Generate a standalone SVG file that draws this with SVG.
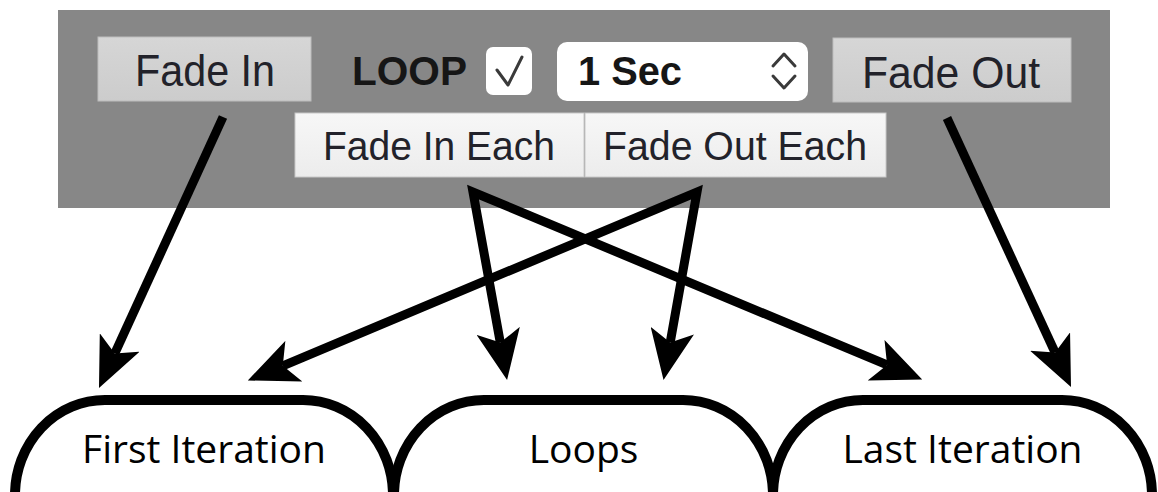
<svg xmlns="http://www.w3.org/2000/svg" width="1158" height="492" viewBox="0 0 1158 492">
  <defs>
    <linearGradient id="gBtn" x1="0" y1="0" x2="0" y2="1">
      <stop offset="0" stop-color="#d6d6d6"/>
      <stop offset="1" stop-color="#cccccc"/>
    </linearGradient>
    <linearGradient id="gSeg" x1="0" y1="0" x2="0" y2="1">
      <stop offset="0" stop-color="#f7f7f7"/>
      <stop offset="1" stop-color="#ececec"/>
    </linearGradient>
    <marker id="arrow" viewBox="0 -22 50 44" refX="12" refY="0" markerWidth="50" markerHeight="44" markerUnits="userSpaceOnUse" orient="auto-start-reverse">
      <path d="M0,-22 L50,0 L0,22 L12,0 Z" fill="#000"/>
    </marker>
    <style>
      .btn { fill: url(#gBtn); stroke: #bdbdbd; stroke-width: 1; }
      .seg { fill: url(#gSeg); stroke: #c8c8c8; stroke-width: 1; }
      .btxt { font-family: "Liberation Sans", Arial, sans-serif; fill: #22222a; text-anchor: middle; }
      .bold { font-family: "Liberation Sans", Arial, sans-serif; font-weight: bold; fill: #161616; }
      .glyph { fill: none; stroke: #3a3a3a; stroke-width: 3; stroke-linecap: round; stroke-linejoin: round; }
      .box { fill: #fff; stroke: #000; stroke-width: 10; }
      .label { font-family: "Open Sans", "Noto Sans", sans-serif; font-size: 39px; fill: #000; text-anchor: middle; }
      .conn { fill: none; stroke: #000; stroke-width: 9; stroke-linejoin: miter; stroke-miterlimit: 10; marker-end: url(#arrow); }
    </style>
  </defs>

  <g id="panel">
    <rect x="58" y="10" width="1052" height="198" fill="#878787"/>
  </g>

  <g id="fade-in">
    <rect class="btn" x="98" y="37" width="213" height="64"/>
    <text class="btxt" x="205" y="86" font-size="44" textLength="140" lengthAdjust="spacingAndGlyphs">Fade In</text>
  </g>

  <g id="loop">
    <text class="bold" x="352" y="85" font-size="40" textLength="115" lengthAdjust="spacingAndGlyphs">LOOP</text>
    <rect x="486" y="47" width="46" height="48" rx="7" fill="#fff"/>
    <path class="glyph" d="M497,70 L508,85 L522,57"/>
  </g>

  <g id="duration">
    <rect x="557" y="42" width="251" height="59" rx="10" fill="#fff"/>
    <text class="bold" x="578" y="85" font-size="40" textLength="104" lengthAdjust="spacingAndGlyphs">1 Sec</text>
    <path class="glyph" d="M773,66 L784,54 L795,66"/>
    <path class="glyph" d="M773,76 L784,88 L795,76"/>
  </g>

  <g id="fade-out">
    <rect class="btn" x="833" y="38" width="238" height="64"/>
    <text class="btxt" x="951" y="88" font-size="44" textLength="178" lengthAdjust="spacingAndGlyphs">Fade Out</text>
  </g>

  <g id="fade-in-each">
    <rect class="seg" x="295" y="113" width="289" height="64"/>
    <text class="btxt" x="439" y="160" font-size="41" textLength="232" lengthAdjust="spacingAndGlyphs">Fade In Each</text>
  </g>

  <g id="fade-out-each">
    <rect class="seg" x="585" y="113" width="301" height="64"/>
    <text class="btxt" x="735" y="160" font-size="41" textLength="264" lengthAdjust="spacingAndGlyphs">Fade Out Each</text>
  </g>

  <g id="first-iteration">
    <path class="box" d="M15,500 L15,495 A90,95 0 0 1 105,400 L303,400 A90,95 0 0 1 393,495 L393,500"/>
    <text class="label" x="204" y="463">First Iteration</text>
  </g>

  <g id="loops">
    <path class="box" d="M394,500 L394,495 A90,95 0 0 1 484,400 L683,400 A90,95 0 0 1 773,495 L773,500"/>
    <text class="label" x="583.5" y="463">Loops</text>
  </g>

  <g id="last-iteration">
    <path class="box" d="M773,500 L773,495 A90,95 0 0 1 863,400 L1062,400 A90,95 0 0 1 1152,495 L1152,500"/>
    <text class="label" x="962.5" y="463">Last Iteration</text>
  </g>

  <g id="connectors">
    <path class="conn" d="M223,117 L114.8,353.4"/>
    <path class="conn" d="M947,118 L1055.1,352.5"/>
    <path class="conn" style="marker-start:url(#arrow)" d="M282.8,365.8 L697,192 L670.2,342.5"/>
    <path class="conn" style="marker-start:url(#arrow)" d="M500.3,342.6 L473,192 L887.1,364.9"/>
  </g>
</svg>
